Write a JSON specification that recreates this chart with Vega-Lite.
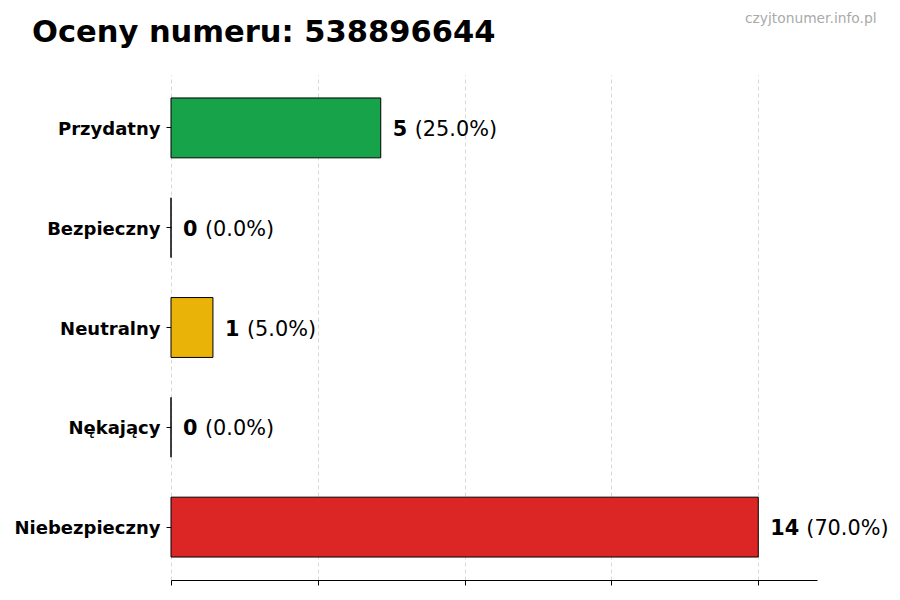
{
  "$schema": "https://vega.github.io/schema/vega-lite/v6.json",
  "autosize": {"type": "none"},
  "padding": {"left": 171, "top": 75, "right": 83, "bottom": 20},
  "width": 646,
  "height": 505,
  "background": "white",
  "title": {
    "text": "Oceny numeru: 538896644",
    "anchor": "start",
    "frame": "group",
    "dx": -139,
    "dy": 41,
    "font": "DejaVu Sans",
    "fontSize": 30.5,
    "fontWeight": "bold",
    "color": "black"
  },
  "config": {
    "view": {"stroke": null},
    "font": "DejaVu Sans"
  },
  "data": {
    "values": [
      {"category": "Przydatny", "count": 5, "pct": "(25.0%)"},
      {"category": "Bezpieczny", "count": 0, "pct": "(0.0%)"},
      {"category": "Neutralny", "count": 1, "pct": "(5.0%)"},
      {"category": "Nękający", "count": 0, "pct": "(0.0%)"},
      {"category": "Niebezpieczny", "count": 14, "pct": "(70.0%)"}
    ]
  },
  "encoding": {
    "y": {
      "field": "category",
      "type": "nominal",
      "sort": null,
      "scale": {"paddingInner": 0.4, "paddingOuter": 0.23},
      "axis": {
        "title": null,
        "domain": false,
        "ticks": true,
        "tickSize": 5,
        "tickColor": "black",
        "labelFont": "DejaVu Sans",
        "labelFontSize": 18,
        "labelFontWeight": "bold",
        "labelColor": "black",
        "labelPadding": 6,
        "labelOffset": 2
      }
    }
  },
  "resolve": {"axis": {"x": "independent"}},
  "layer": [
    {
      "mark": {"type": "bar", "stroke": "black", "strokeWidth": 1},
      "encoding": {
        "x": {
          "field": "count",
          "type": "quantitative",
          "scale": {"domain": [0, 15.4], "nice": false},
          "axis": {
            "title": null,
            "orient": "bottom",
            "values": [0, 3.5, 7, 10.5, 14],
            "labels": false,
            "domainColor": "black",
            "domainWidth": 1,
            "tickColor": "black",
            "tickSize": 5,
            "grid": true,
            "gridColor": "#d9d9d9",
            "gridDash": [4, 3],
            "gridWidth": 1
          }
        },
        "color": {
          "field": "category",
          "type": "nominal",
          "legend": null,
          "scale": {
            "domain": ["Przydatny", "Bezpieczny", "Neutralny", "Nękający", "Niebezpieczny"],
            "range": ["#16a34a", "#2563eb", "#eab308", "#9333ea", "#dc2626"]
          }
        }
      }
    },
    {
      "mark": {"type": "text", "align": "left", "baseline": "middle", "dx": 12, "dy": 2, "fontSize": 20.8, "fontWeight": "bold", "font": "DejaVu Sans", "color": "black"},
      "encoding": {
        "x": {"field": "count", "type": "quantitative", "axis": null},
        "text": {"field": "count", "type": "quantitative"}
      }
    },
    {
      "transform": [{"filter": "datum.count < 10"}],
      "mark": {"type": "text", "align": "left", "baseline": "middle", "dx": 34, "dy": 2, "fontSize": 20.8, "font": "DejaVu Sans", "color": "black"},
      "encoding": {
        "x": {"field": "count", "type": "quantitative", "axis": null},
        "text": {"field": "pct", "type": "nominal"}
      }
    },
    {
      "transform": [{"filter": "datum.count >= 10"}],
      "mark": {"type": "text", "align": "left", "baseline": "middle", "dx": 48, "dy": 2, "fontSize": 20.8, "font": "DejaVu Sans", "color": "black"},
      "encoding": {
        "x": {
          "field": "count",
          "type": "quantitative",
          "axis": {
            "orient": "top",
            "title": "czyjtonumer.info.pl",
            "titleColor": "#aaaaaa",
            "titleFont": "DejaVu Sans",
            "titleFontSize": 13.8,
            "titleFontWeight": "normal",
            "titleAnchor": "end",
            "titleAlign": "right",
            "titleBaseline": "middle",
            "titleX": 705,
            "titleY": -57,
            "labels": false,
            "ticks": false,
            "domain": false,
            "grid": false
          }
        },
        "text": {"field": "pct", "type": "nominal"}
      }
    }
  ]
}
